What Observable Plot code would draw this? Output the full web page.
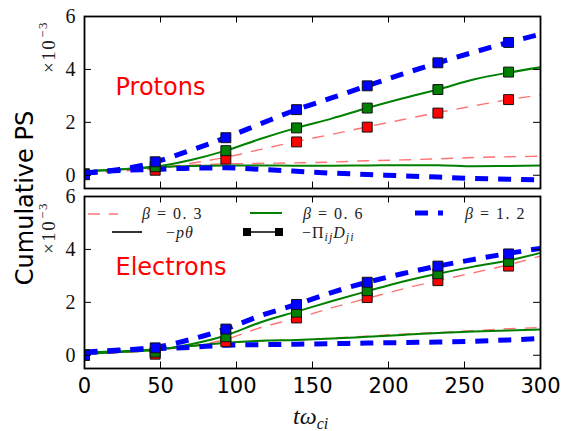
<!DOCTYPE html>
<html><head><meta charset="utf-8">
<script src="https://cdn.jsdelivr.net/npm/d3@7"></script>
<script src="https://cdn.jsdelivr.net/npm/@observablehq/plot@0.6"></script>
<style>body{margin:0;background:#fff;} #chart{width:572px;height:431px;}</style>
</head><body><div id="chart"></div>
<script>
const panels = ["Protons", "Electrons"];
const betas = ["0.3", "0.6", "1.2"];
const xTicks = [0, 50, 100, 150, 200, 250, 300];
const yTicks = [0, 2, 4, 6];
const lineTimes = [0, 23, 46.5, 70, 93, 116, 139.5, 163, 186, 209, 232.5, 256, 279, 300];
const markerTimes = [0, 46.5, 93, 139.5, 186, 232.5, 279];

// values in units of 1e-3
const protonsPiD03 = [0.1, 0.15, 0.25, 0.45, 0.68, 0.98, 1.28, 1.55, 1.83, 2.1, 2.37, 2.62, 2.86, 3.03];
const protonsPiD06 = [0.15, 0.22, 0.33, 0.58, 0.93, 1.38, 1.79, 2.15, 2.54, 2.9, 3.24, 3.62, 3.88, 4.08];
const protonsPiD12 = [0.08, 0.22, 0.5, 0.95, 1.42, 1.95, 2.48, 2.93, 3.38, 3.82, 4.25, 4.65, 5.02, 5.33];
const protonsPT03 = [0.1, 0.18, 0.28, 0.38, 0.43, 0.45, 0.47, 0.5, 0.55, 0.58, 0.62, 0.67, 0.7, 0.72];
const protonsPT06 = [0.15, 0.22, 0.3, 0.35, 0.37, 0.37, 0.36, 0.36, 0.37, 0.38, 0.38, 0.34, 0.35, 0.37];
const protonsPT12 = [0.08, 0.18, 0.22, 0.27, 0.28, 0.22, 0.15, 0.08, 0.03, -0.02, -0.07, -0.12, -0.15, -0.17];

const electronsPiD03 = [0.05, 0.1, 0.18, 0.35, 0.6, 1.05, 1.4, 1.8, 2.15, 2.5, 2.82, 3.12, 3.42, 3.75];
const electronsPiD06 = [0.05, 0.12, 0.2, 0.42, 0.75, 1.25, 1.65, 2.05, 2.42, 2.78, 3.08, 3.35, 3.58, 3.87];
const electronsPiD12 = [0.1, 0.18, 0.3, 0.6, 1.0, 1.5, 1.92, 2.38, 2.76, 3.08, 3.37, 3.62, 3.85, 4.04];
const electronsPT03 = [0.05, 0.12, 0.22, 0.35, 0.47, 0.53, 0.58, 0.65, 0.72, 0.8, 0.86, 0.93, 1.0, 1.05];
const electronsPT06 = [0.1, 0.15, 0.22, 0.35, 0.47, 0.55, 0.58, 0.63, 0.7, 0.77, 0.84, 0.9, 0.94, 0.97];
const electronsPT12 = [0.12, 0.2, 0.25, 0.3, 0.38, 0.4, 0.42, 0.44, 0.46, 0.48, 0.5, 0.53, 0.58, 0.63];

const protonsMark03 = [0.05, 0.19, 0.61, 1.26, 1.82, 2.35, 2.86];
const protonsMark06 = [0.05, 0.32, 0.93, 1.79, 2.54, 3.24, 3.9];
const protonsMark12 = [0.02, 0.51, 1.42, 2.48, 3.38, 4.25, 5.02];
const electronsMark03 = [0.0, 0.04, 0.51, 1.41, 2.18, 2.82, 3.37];
const electronsMark06 = [0.02, 0.12, 0.7, 1.63, 2.44, 3.08, 3.55];
const electronsMark12 = [0.0, 0.28, 0.99, 1.92, 2.76, 3.37, 3.83];

const lineSeries = [
  ["Protons", "PiD", "0.3", protonsPiD03], ["Protons", "PiD", "0.6", protonsPiD06], ["Protons", "PiD", "1.2", protonsPiD12],
  ["Protons", "PT", "0.3", protonsPT03], ["Protons", "PT", "0.6", protonsPT06], ["Protons", "PT", "1.2", protonsPT12],
  ["Electrons", "PiD", "0.3", electronsPiD03], ["Electrons", "PiD", "0.6", electronsPiD06], ["Electrons", "PiD", "1.2", electronsPiD12],
  ["Electrons", "PT", "0.3", electronsPT03], ["Electrons", "PT", "0.6", electronsPT06], ["Electrons", "PT", "1.2", electronsPT12]
];
const markerSeries = [
  ["Protons", "0.3", protonsMark03], ["Protons", "0.6", protonsMark06], ["Protons", "1.2", protonsMark12],
  ["Electrons", "0.3", electronsMark03], ["Electrons", "0.6", electronsMark06], ["Electrons", "1.2", electronsMark12]
];

const lineRows = lineSeries.flatMap(([panel, kind, beta, vals]) =>
  vals.map((v, i) => ({panel, kind, beta, t: lineTimes[i], v, key: panel + kind})));
const markerRows = markerSeries.flatMap(([panel, beta, vals]) =>
  vals.map((v, i) => ({panel, beta, t: markerTimes[i], v})));

const style = {
  "0.3": {stroke: "red", strokeOpacity: 0.55, strokeWidth: 1.4, strokeDasharray: "12,9", fill: "red"},
  "0.6": {stroke: "#008000", strokeOpacity: 1, strokeWidth: 2, strokeDasharray: null, fill: "#008000"},
  "1.2": {stroke: "blue", strokeOpacity: 1, strokeWidth: 5, strokeDasharray: "13,10", fill: "blue"}
};

const W = 572, H = 431, ML = 84, MR = 32, MT = 16, MB = 62;
const gap = 8;
const pInner = 2 * gap / ((H - MT - MB) + gap);
const BW = (H - MT - MB - gap) / 2;
const FW = W - ML - MR;

const marks = [];
for (const b of betas) {
  const s = style[b];
  marks.push(Plot.line(lineRows.filter(d => d.beta === b), {
    x: "t", y: "v", z: "key", fy: "panel", curve: "monotone-x",
    stroke: s.stroke, strokeOpacity: s.strokeOpacity, strokeWidth: s.strokeWidth,
    strokeDasharray: s.strokeDasharray, strokeLinecap: "butt", clip: true
  }));
}
for (const b of betas) {
  marks.push(Plot.dot(markerRows.filter(d => d.beta === b), {
    x: "t", y: "v", fy: "panel", symbol: "square", r: 5.6,
    fill: style[b].fill, stroke: "#111", strokeWidth: 1, clip: true
  }));
}
marks.push(
  Plot.tickX(xTicks, {x: d => d, insetTop: BW - 7, stroke: "black", strokeWidth: 1}),
  Plot.tickX(xTicks, {x: d => d, insetBottom: BW - 7, stroke: "black", strokeWidth: 1}),
  Plot.tickY(yTicks, {y: d => d, insetRight: FW - 7, stroke: "black", strokeWidth: 1}),
  Plot.tickY(yTicks, {y: d => d, insetLeft: FW - 7, stroke: "black", strokeWidth: 1}),
  Plot.frame({stroke: "black", strokeWidth: 1.8}),
  Plot.text(panels.map(p => ({panel: p})), {
    fy: "panel", text: "panel", frameAnchor: "top-left", dx: 31, dy: 71,
    textAnchor: "start", lineAnchor: "middle", fill: "red", fontSize: 24, fontFamily: "DejaVu Sans"
  }),
  Plot.axisX({ticks: xTicks, tickFormat: d => String(d), tickSize: 0, tickPadding: 10, fontSize: 21, fontFamily: "DejaVu Sans", label: null, fill: "black"}),
  Plot.axisY({ticks: yTicks, tickFormat: d => String(d), tickSize: 0, tickPadding: 9, fontSize: 20, fontFamily: "Liberation Serif", label: null, fill: "#111"})
);

const plot = Plot.plot({
  width: W, height: H,
  marginLeft: ML, marginRight: MR, marginTop: MT, marginBottom: MB,
  style: {background: "white", color: "black", fontFamily: "DejaVu Sans"},
  x: {domain: [0, 300]},
  y: {domain: [-0.5, 6]},
  fy: {domain: panels, axis: null, paddingInner: pInner, paddingOuter: 0},
  marks
});
document.getElementById("chart").appendChild(plot);

// annotations: axis labels, offset texts and legend
const svg = d3.select(plot);
const g = svg.append("g").attr("text-anchor", "start");
function mathText(parent, x, y, parts, opts = {}) {
  const t = parent.append("text").attr("x", x).attr("y", y)
    .attr("font-family", opts.family || "Liberation Serif")
    .attr("font-size", opts.size || 18)
    .attr("fill", opts.fill || "#222")
    .attr("text-anchor", opts.anchor || "start");
  if (opts.transform) t.attr("transform", opts.transform);
  if (opts.spacing) t.attr("letter-spacing", opts.spacing);
  for (const p of parts) {
    const ts = t.append("tspan").text(p.t);
    if (p.italic) ts.attr("font-style", "italic");
    if (p.size) ts.attr("font-size", p.size);
    if (p.dy) ts.attr("dy", p.dy);
    if (p.dx) ts.attr("dx", p.dx);
  }
  return t;
}
// y label
g.append("text").attr("transform", "translate(33,198) rotate(-90)")
  .attr("text-anchor", "middle").attr("font-family", "DejaVu Sans").attr("font-size", 24)
  .attr("fill", "black").text("Cumulative PS");
// x label
mathText(g, 293, 424, [{t: "t", italic: true}, {t: "ω", italic: true}, {t: "ci", italic: true, size: 16, dy: 5}], {size: 24, fill: "#111"});
// offset texts ×10^-3
for (const y0 of [73, 254]) {
  mathText(g, 0, 0, [{t: "×10"}, {t: "−3", size: 13, dy: -8, dx: 1}], {size: 19, fill: "#222", spacing: 1.5, transform: `translate(55,${y0}) rotate(-90)`});
}
// legend
const leg = g.append("g");
function handle(x1, x2, y, s) {
  leg.append("line").attr("x1", x1).attr("x2", x2).attr("y1", y).attr("y2", y)
    .attr("stroke", s.stroke).attr("stroke-opacity", s.strokeOpacity ?? 1)
    .attr("stroke-width", s.strokeWidth).attr("stroke-dasharray", s.strokeDasharray);
}
handle(88, 118, 214, style["0.3"]);
handle(250, 282, 213, style["0.6"]);
handle(415, 443, 213, style["1.2"]);
handle(112, 142, 232, {stroke: "black", strokeWidth: 1.6});
handle(243, 283, 232, {stroke: "black", strokeWidth: 1.6});
for (const cx of [247, 279]) {
  leg.append("rect").attr("x", cx - 4).attr("y", 228).attr("width", 8).attr("height", 8).attr("fill", "black");
}
const betaParts = v => [{t: "β", italic: true}, {t: " = "}, {t: v}];
mathText(leg, 142, 219, betaParts("0. 3"), {size: 16, spacing: 1.5});
mathText(leg, 303, 219, betaParts("0. 6"), {size: 16, spacing: 1.5});
mathText(leg, 465, 219, betaParts("1. 2"), {size: 16, spacing: 1.5});
mathText(leg, 166, 238, [{t: "−"}, {t: "pθ", italic: true}], {size: 16, spacing: 1});
mathText(leg, 302, 238, [{t: "−Π"}, {t: "ij", italic: true, size: 12, dy: 3}, {t: "D", italic: true, dy: -3}, {t: "ji", italic: true, size: 12, dy: 3}], {size: 16, spacing: 1});
</script>
</body></html>
